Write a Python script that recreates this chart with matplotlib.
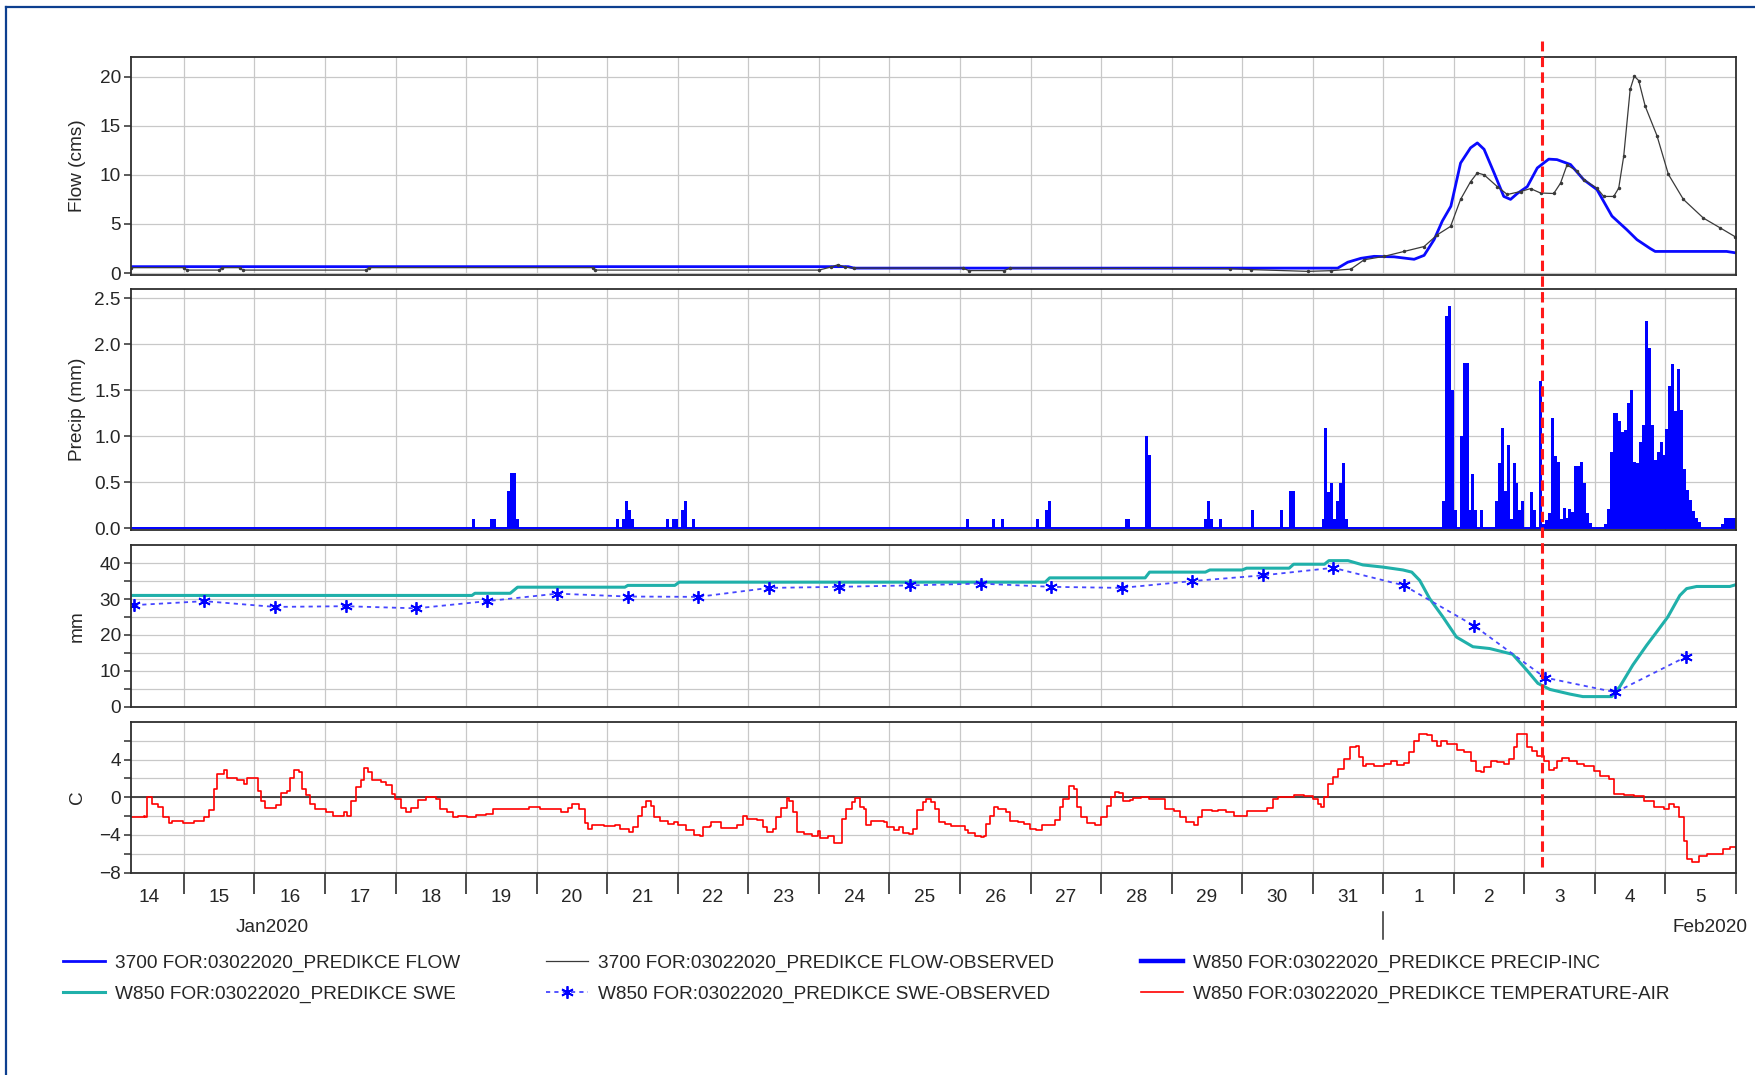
import numpy as np
import matplotlib
matplotlib.use("Agg")
import matplotlib.pyplot as plt
import matplotlib.dates as mdates
import matplotlib.transforms as mtrans
from matplotlib.lines import Line2D
from matplotlib.ticker import FuncFormatter, FixedLocator, FormatStrFormatter

plt.rcParams['font.family'] = ['Liberation Sans', 'DejaVu Sans']
plt.rcParams['lines.scale_dashes'] = False

# all times are hours counted from 14 Jan 2020 00:00
T0 = np.datetime64('2020-01-14T00:00')

# simulated flow (cms)
flow_hours = [6, 250, 252, 387, 416.5, 419.9, 424.4, 428.9, 435.7, 442.5, 445.9, 449.3,
              452.1, 455, 458.3, 461.7, 464, 466.3, 469.7, 473, 475.3, 477.6, 481, 484.4,
              488.3, 491.1, 495.7, 500.2, 504.7, 509.8, 514.9, 518.3, 522.8, 524.5, 548.8, 552]
flow_cms = [0.65, 0.65, 0.5, 0.5, 0.5, 1.1, 1.5, 1.7, 1.65, 1.4, 1.8, 3.4,
            5.3, 6.8, 11.2, 12.75, 13.25, 12.6, 10.2, 7.8, 7.5, 8.1, 8.8, 10.7,
            11.6, 11.55, 11.05, 9.5, 8.5, 5.8, 4.4, 3.4, 2.5, 2.2, 2.2, 2.05]

# observed flow (cms)
obs_hours = [6, 24, 25, 36, 37, 43, 44, 86, 87, 163, 164, 240, 244, 246.5, 249, 252,
             289, 291, 303, 305, 380, 387, 406.3, 414.2, 421, 425.5, 432.3, 439.1, 445.9,
             450.4, 454.9, 458.3, 461.7, 464, 466.3, 470.8, 474.2, 478.7, 482.1, 485.5,
             490, 492.3, 494.5, 497.9, 500.2, 504.7, 507, 510.4, 512.1, 513.8, 516, 517.4,
             518.9, 521.1, 525.1, 529, 534.1, 540.9, 546.6, 551.7]
obs_cms = [0.55, 0.55, 0.3, 0.3, 0.55, 0.55, 0.3, 0.3, 0.55, 0.55, 0.3, 0.3, 0.6, 0.85, 0.6, 0.5,
           0.5, 0.25, 0.25, 0.5, 0.45, 0.35, 0.17, 0.24, 0.4, 1.35, 1.7, 2.2, 2.7,
           3.9, 4.75, 7.5, 9.3, 10.2, 10.0, 8.8, 8.0, 8.3, 8.6, 8.15,
           8.1, 9.15, 11.0, 10.4, 9.5, 8.65, 7.8, 7.8, 8.65, 11.9, 18.7, 20.05,
           19.6, 17.0, 14.0, 10.05, 7.5, 5.6, 4.6, 3.7]

# hourly precipitation increments (mm), only non-zero hours
precip_hours = [122, 128, 129, 134, 135, 136, 137,
                171, 173, 174, 175, 176, 188, 190, 191, 193, 194, 197,
                290, 299, 302, 314, 317, 318, 344, 345, 351, 352,
                371, 372, 373, 376, 387, 397, 400, 401,
                411, 412, 413, 414, 415, 416, 417, 418, 419,
                452, 453, 454, 455, 456, 458, 459, 460, 461, 462, 463, 465,
                470, 471, 472, 473, 474, 475, 476, 477, 478, 479, 482, 483, 485,
                486, 487, 488, 489, 490, 491, 492, 493, 494, 495, 496, 497, 498, 499,
                500, 501, 502,
                507, 508, 509, 510, 511, 512, 513, 514, 515, 516, 517, 518, 519, 520,
                521, 522, 523, 524, 525, 526, 527, 528, 529, 530, 531, 532, 533, 534,
                535, 536, 537, 538, 539, 547, 548, 549, 550, 551]
precip_mm = [0.1, 0.1, 0.1, 0.4, 0.6, 0.6, 0.1,
             0.1, 0.1, 0.3, 0.2, 0.1, 0.1, 0.1, 0.1, 0.2, 0.3, 0.1,
             0.1, 0.1, 0.1, 0.1, 0.2, 0.3, 0.1, 0.1, 1.0, 0.8,
             0.1, 0.3, 0.1, 0.1, 0.2, 0.2, 0.4, 0.4,
             0.1, 1.09, 0.39, 0.49, 0.1, 0.3, 0.49, 0.71, 0.1,
             0.3, 2.31, 2.41, 1.5, 0.2, 1.0, 1.8, 1.8, 0.2, 0.59, 0.2, 0.2,
             0.3, 0.71, 1.09, 0.4, 0.9, 0.1, 0.71, 0.49, 0.2, 0.3, 0.39, 0.2, 1.6,
             0.04, 0.09, 0.16, 1.2, 0.78, 0.72, 0.1, 0.22, 0.11, 0.21, 0.18, 0.68, 0.68, 0.72,
             0.49, 0.17, 0.06,
             0.05, 0.21, 0.83, 1.25, 1.25, 1.16, 1.05, 1.07, 1.36, 1.5, 0.72, 0.71, 0.94, 1.12,
             2.25, 1.96, 1.12, 0.74, 0.83, 0.94, 0.8, 1.08, 1.55, 1.78, 1.27, 1.73, 1.29, 0.64,
             0.41, 0.31, 0.19, 0.11, 0.07, 0.04, 0.11, 0.11, 0.11, 0.11]

# simulated snow water equivalent (mm)
swe_hours = [6, 122, 123, 135, 137.5, 174, 175, 191, 192.5, 317, 318.5, 351, 352.5,
             371.5, 373, 384, 385.5, 400, 401.5, 412, 413.5, 420, 425.1, 431.9, 438.7,
             441.7, 444.4, 447.8, 452.3, 456.9, 462.5, 468.2, 476, 480.8, 484.6, 488.7,
             495.5, 499.9, 509.7, 512.5, 516.9, 521.6, 525, 528.8, 532.9, 535.2, 538.6,
             549.9, 552]
swe_mm = [31.0, 31.0, 31.6, 31.6, 33.3, 33.3, 33.8, 33.8, 34.7, 34.7, 35.9, 35.9, 37.5,
          37.5, 38.1, 38.1, 38.6, 38.6, 39.7, 39.7, 40.7, 40.7, 39.5, 38.9, 38.1,
          37.5, 35.2, 30.1, 25.0, 19.4, 16.7, 16.2, 14.6, 10.2, 6.5, 4.8,
          3.5, 2.8, 2.8, 5.6, 11.6, 17.1, 20.8, 25.0, 31.0, 32.9, 33.5,
          33.5, 34.0]

# observed SWE (mm), one reading per day
swe_obs_hours = [7 + 24 * d for d in range(23)]
swe_obs_mm = [28.3, 29.4, 27.8, 28.0, 27.4, 29.4, 31.5, 30.7, 30.6, 33.1, 33.4, 33.8,
              34.3, 33.4, 33.1, 35.0, 36.6, 38.7, 33.8, 22.5, 8.1, 4.0, 13.9]

# air temperature (C)
temp_hours = [6, 10.3, 10.9, 11.5, 13.3, 15.1, 17, 18.8, 20, 23.6, 27.3, 30.9, 32.7, 34.3,
              35.2, 37.6, 38.8, 41.9, 44.3, 45.5, 47.9, 49.2, 50.1, 51.6, 55.2, 57, 58.9,
              60.1, 61.3, 63.1, 64.3, 65.6, 66.8, 68.6, 72.2, 74.7, 78.3, 79.5, 80.7, 82.6,
              84.4, 85.4, 86.6, 88, 91.1, 92.9, 94.7, 95.9, 97.8, 99.6, 101.4, 103.8, 106.3,
              109.9, 111.1, 113.6, 115.4, 117.2, 120.2, 123.3, 126.9, 129.3, 135.4, 141.5,
              145.1, 152.4, 154.8, 156.1, 158.5, 160.3, 161.5, 162.7, 167, 170.6, 172.4,
              175.5, 176.7, 178.5, 179.8, 181.3, 182.8, 184, 185.9,
              188.6, 190.7, 192, 194.7, 197.4, 199.4, 200.7, 202.8, 203.4, 206.1, 206.8,
              210.2, 212.2, 214.2, 215.6, 218.9, 221, 222.3, 224.3, 225.4, 227, 229, 230,
              231.1, 232.4, 235.1, 237.8, 239.8, 240.5, 242.5, 243.1, 244.5, 245.2, 246.9,
              247.9, 249.2, 251.2, 252.3, 253.9, 255.3, 255.9, 257.3, 257.9, 259.9, 262,
              263.3, 265.4, 267.4, 268.7, 270.7, 272.1, 273.4, 275.4, 276.5, 278.1, 279.5,
              280.8, 282.8, 284.8, 287.6, 289.6, 290.9, 293, 295, 296.3, 297, 298.3, 299.7,
              301, 303.7, 305, 307.7, 309.8, 311.8, 313.8, 315.8, 319.9, 320.5, 321.9,
              323.2, 325.2, 326.8, 327.9, 329.2, 331.3, 334, 336, 338, 339.3, 340.7, 342,
              343.4, 346, 346.7, 349.5, 352.2, 354.9, 357.6, 360.9, 362.9, 365, 367.6, 369,
              370.3, 373.7, 375.7, 378.4, 381.1, 383.8, 385.8, 389.8, 392.5,
              394.4, 396.1, 401.8, 405.2, 408, 409.7, 410.8, 412, 413.3, 414.8, 416.5,
              418.7, 420.8, 422.7, 423.8, 425, 426.1, 429, 432.3, 434.6, 436.8, 439.1,
              440.8, 442.5, 444.2, 447, 448.7, 450.4, 451.6, 453.8, 456.1, 457.2, 459.5,
              461.7, 463.4, 465.1, 466.3, 468.5, 470.8, 473, 474.7, 476.4, 477.6, 479.3,
              481, 482.7, 484.4, 486.6, 488.3, 490, 491.1, 492.8, 495.1, 497.9, 500.2,
              503.6, 505.9, 508.7, 510.4, 513.8, 517.2, 520.6, 524, 527.4, 529.1, 530.8,
              532.5, 534.2, 535.4, 537, 539.3, 542.1, 545.4, 547.7, 550, 552]
temp_c = [-2.07, -1.96, -2.1, 0.0, -0.7, -1.0, -2.1, -2.7, -2.5, -2.7, -2.5, -2.1, -1.4, 0.9,
          2.5, 2.85, 2.0, 1.8, 1.4, 2.0, 2.0, 0.7, -0.35, -1.1, -0.8, 0.5, 0.7,
          2.0, 2.85, 2.7, 0.9, 0.2, -0.7, -1.25, -1.6, -1.96, -1.6, -1.96, -0.35, 1.07,
          1.8, 3.1, 2.7, 1.8, 1.6, 1.25, 0.36, -0.2, -1.1, -1.6, -1.1, -0.3, 0.0,
          -0.2, -1.25, -1.6, -2.07, -1.96, -2.1, -1.85, -1.78, -1.3, -1.3, -1.07,
          -1.3, -1.6, -1.1, -0.7, -1.25, -2.7, -3.4, -2.9, -3.1, -2.9, -3.4,
          -3.7, -3.2, -1.96, -1.07, -0.43, -0.9, -2.1, -2.5,
          -2.8, -2.66, -3.0, -3.5, -4.0, -4.1, -3.2, -3.1, -2.66, -2.66, -3.26,
          -3.26, -2.9, -2.0, -2.3, -2.38, -3.2, -3.7, -3.4, -2.1, -1.13, -0.07, -0.35,
          -1.6, -3.7, -3.9, -4.1, -3.6, -4.3, -4.3, -4.1, -4.1, -4.9, -4.9,
          -2.3, -1.24, -0.53, -0.1, -1.06, -1.24, -3.0, -3.0, -2.5, -2.5, -2.66,
          -3.2, -3.5, -3.2, -3.8, -3.9, -3.4, -1.4, -0.53, -0.18, -0.53, -1.24,
          -2.66, -2.84, -3.1, -3.1, -3.5, -3.8, -4.1, -4.26, -4.1, -2.84, -1.95, -1.0,
          -1.24, -1.6, -2.5, -2.66, -2.84, -3.4, -3.5, -3.0, -3.0, -2.4, -1.06,
          -0.18, 1.24, 0.9, -1.06, -2.1, -2.77, -2.9, -2.1, -0.9, 0.07, 0.53, 0.43,
          -0.35, -0.28, -0.07, 0.07, -0.18, -0.18, -1.24, -1.5, -2.1, -2.66, -2.9, -2.1,
          -1.35, -1.42, -1.35, -1.6, -1.95, -1.95, -1.5, -1.42, -1.13,
          -0.18, 0.07, 0.25, 0.18, -0.18, -0.7, -1.06, 0.0, 1.42, 2.13, 3.0,
          4.1, 5.3, 5.5, 4.26, 3.37, 3.55, 3.37, 3.55, 3.9, 3.44, 3.6,
          4.8, 6.0, 6.7, 6.67, 6.0, 5.5, 5.96, 5.67, 5.67, 5.0, 4.8,
          3.9, 2.84, 2.66, 3.2, 3.9, 3.7, 3.55, 4.08, 5.3, 6.7, 6.7,
          5.3, 4.96, 4.4, 3.9, 2.9, 3.1, 3.9, 4.2, 3.9, 3.55, 3.37,
          2.84, 2.3, 1.95, 0.35, 0.28, 0.18, -0.35, -1.06, -1.24, -0.7, -1.06,
          -2.13, -4.6, -6.56, -6.9, -6.2, -6.0, -6.0, -5.5, -5.25, -5.5]

forecast_hour = 486  # 3 Feb 06:00

legend_labels = ['3700 FOR:03022020_PREDIKCE FLOW',
                 'W850 FOR:03022020_PREDIKCE SWE',
                 '3700 FOR:03022020_PREDIKCE FLOW-OBSERVED',
                 'W850 FOR:03022020_PREDIKCE SWE-OBSERVED',
                 'W850 FOR:03022020_PREDIKCE PRECIP-INC',
                 'W850 FOR:03022020_PREDIKCE TEMPERATURE-AIR']


def hours_to_num(hours):
    minutes = np.round(np.asarray(hours, dtype=float) * 60).astype(np.int64)
    return mdates.date2num(T0 + minutes.astype('timedelta64[m]'))


FS = 13.7
TXT = '#262626'
GRID = '#c8c8c8'

fig = plt.figure(figsize=(17.56, 10.75), dpi=100)
FW, FH = 1756, 1075


def box(top, bottom, left=131, right=1736):
    return [left / FW, 1 - bottom / FH, (right - left) / FW, (bottom - top) / FH]


ax_flow = fig.add_axes(box(57, 275))
ax_prec = fig.add_axes(box(289, 530), sharex=ax_flow)
ax_swe = fig.add_axes(box(544.5, 707), sharex=ax_flow)
ax_temp = fig.add_axes(box(722, 872.5), sharex=ax_flow)
axes = [ax_flow, ax_prec, ax_swe, ax_temp]

# --- flow
ln_flow, = ax_flow.plot(hours_to_num(flow_hours), flow_cms, color='#0a0aff', lw=2.0, zorder=3)
ax_flow.plot(hours_to_num(obs_hours), obs_cms, color='#3a3a3a', lw=0.9,
             marker='o', markersize=1.5, zorder=4)
ax_flow.set_ylim(-0.2, 22)
ax_flow.set_yticks([0, 5, 10, 15, 20])
ax_flow.set_ylabel('Flow (cms)', fontsize=FS, color=TXT)

# --- precipitation
ax_prec.bar(hours_to_num(precip_hours), precip_mm, width=1 / 24, align='edge',
            color='#0000ff', edgecolor='none', zorder=3)
ax_prec.axhline(0, color='#0000ff', lw=1.4, zorder=3)
ax_prec.set_ylim(-0.02, 2.6)
ax_prec.set_yticks([0, 0.5, 1.0, 1.5, 2.0, 2.5])
ax_prec.yaxis.set_major_formatter(FormatStrFormatter('%.1f'))
ax_prec.set_ylabel('Precip (mm)', fontsize=FS, color=TXT)

# --- swe
ln_swe, = ax_swe.plot(hours_to_num(swe_hours), swe_mm, color='#20b0aa', lw=2.2, zorder=3)
ln_sweobs, = ax_swe.plot(hours_to_num(swe_obs_hours), swe_obs_mm, color='#4646ff', lw=1.3,
                         linestyle=(0, (3, 3)), marker=(6, 2, 0), markersize=9,
                         markeredgecolor='#0000ff', markeredgewidth=1.3, zorder=4)
ax_swe.set_ylim(-0.1, 45.2)
ax_swe.set_yticks([0, 10, 20, 30, 40])
ax_swe.yaxis.set_minor_locator(FixedLocator([5, 15, 25, 35]))
ax_swe.set_ylabel('mm', fontsize=FS, color=TXT)

# --- temperature
ln_temp, = ax_temp.plot(hours_to_num(temp_hours), temp_c, color='#ff0000', lw=1.2,
                        drawstyle='steps-post', zorder=3)
ax_temp.axhline(0, color='#3a3a3a', lw=1.3, zorder=2)
ax_temp.set_ylim(-8, 8)
ax_temp.set_yticks([-8, -4, 0, 4])
ax_temp.yaxis.set_minor_locator(FixedLocator([-6, -2, 2, 6]))
ax_temp.set_ylabel('C', fontsize=FS, color=TXT)

# --- shared styling
x0, x1 = hours_to_num([6, 552])
ax_temp.set_xlim(x0, x1)
ax_temp.xaxis.set_major_locator(mdates.DayLocator())
ax_temp.xaxis.set_minor_locator(mdates.HourLocator(byhour=12))
ax_temp.xaxis.set_major_formatter(FuncFormatter(lambda v, p: ''))
ax_temp.xaxis.set_minor_formatter(FuncFormatter(lambda v, p: str(mdates.num2date(v).day)))

for ax in axes:
    for sp in ax.spines.values():
        sp.set_color('#2e2e2e')
        sp.set_linewidth(1.3)
        sp.set_zorder(5)
    ax.xaxis.grid(True, which='major', color=GRID, lw=0.9)
    ax.yaxis.grid(True, which='both', color=GRID, lw=0.9)
    ax.set_axisbelow(True)
    ax.tick_params(axis='y', which='both', length=4.8, width=1.1, color='#2e2e2e',
                   pad=2.5, labelsize=FS, labelcolor=TXT)
    ax.yaxis.set_label_coords(-0.028, 0.5)
    if ax is not ax_temp:
        ax.tick_params(axis='x', which='both', length=0, labelbottom=False)

ax_temp.tick_params(axis='x', which='major', length=15, width=1.2, color='#2e2e2e')
ax_temp.tick_params(axis='x', which='minor', length=0, pad=12.2, labelsize=FS, labelcolor=TXT)

# month marks under the axis
blend = mtrans.blended_transform_factory(ax_temp.transData, fig.transFigure)
feb1 = hours_to_num([432])[0]
fig.add_artist(Line2D([feb1, feb1], [1 - 912 / FH, 1 - 939 / FH], transform=blend,
                      color='#2e2e2e', lw=1.1))
fig.text(272 / FW, 1 - 927 / FH, 'Jan2020', ha='center', va='center', fontsize=FS, color=TXT)
fig.text(1748 / FW, 1 - 927 / FH, 'Feb2020', ha='right', va='center', fontsize=FS, color=TXT)

# forecast time marker across all panels
fx = hours_to_num([forecast_hour])[0]
fig.add_artist(Line2D([fx, fx], [1 - 867 / FH, 1 - 41 / FH], transform=blend,
                      color='#ff1a1a', lw=2.2, dashes=(7.5, 3.8), zorder=10))

# frame lines of the original window
fig.add_artist(Line2D([6 / FW, 1], [1 - 7 / FH, 1 - 7 / FH], transform=fig.transFigure,
                      color='#0d3f8f', lw=1.6))
fig.add_artist(Line2D([6 / FW, 6 / FW], [0, 1 - 7 / FH], transform=fig.transFigure,
                      color='#0d3f8f', lw=1.6))

# legend
obs_proxy = Line2D([], [], color='#3a3a3a', lw=0.9)
prec_proxy = Line2D([], [], color='#0000ff', lw=3.2)
handles = [ln_flow, ln_swe, obs_proxy, ln_sweobs, prec_proxy, ln_temp]
leg = fig.legend(handles, legend_labels, loc='upper left',
                 bbox_to_anchor=(63 / FW, 1 - 954 / FH), ncol=3, frameon=False,
                 fontsize=FS, handlelength=2.2, handletextpad=0.52, columnspacing=4.55,
                 labelspacing=0.72, borderpad=0, borderaxespad=0, numpoints=1)
for t in leg.get_texts():
    t.set_color(TXT)

fig.savefig('out.png', dpi=100, facecolor='white')
